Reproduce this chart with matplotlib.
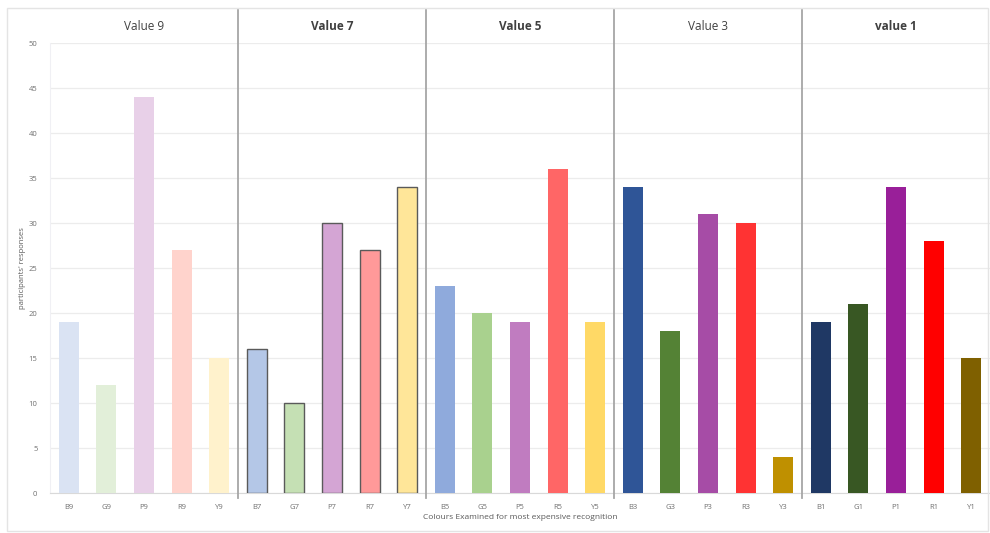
import matplotlib.pyplot as plt
from matplotlib.patches import Rectangle

plt.rcParams['font.family'] = ['Open Sans', 'DejaVu Sans']

# Survey counts per colour shade, grouped by value level
groups = ['Value 9', 'Value 7', 'Value 5', 'Value 3', 'value 1']
labels = ['B9', 'G9', 'P9', 'R9', 'Y9',
          'B7', 'G7', 'P7', 'R7', 'Y7',
          'B5', 'G5', 'P5', 'R5', 'Y5',
          'B3', 'G3', 'P3', 'R3', 'Y3',
          'B1', 'G1', 'P1', 'R1', 'Y1']
counts = [19, 12, 44, 27, 15,
          16, 10, 30, 27, 34,
          23, 20, 19, 36, 19,
          34, 18, 31, 30, 4,
          19, 21, 34, 28, 15]
colours = ['#dae3f3', '#e2efd9', '#e8d0e8', '#ffd3cc', '#fff2cc',
           '#b4c7e7', '#c5e0b4', '#d4a5d4', '#ff9999', '#ffe699',
           '#8faadc', '#a9d18e', '#c07cc0', '#ff6666', '#ffd966',
           '#2f5597', '#548235', '#a64ca6', '#ff3333', '#bf9000',
           '#1f3864', '#385723', '#991f99', '#ff0000', '#7f6000']

fig = plt.figure(figsize=(9.9, 5.33), dpi=100)
ax = fig.add_axes([0.0505, 0.075, 0.9495, 0.844])

x = list(range(len(counts)))
bars = ax.bar(x, counts, width=0.53, color=colours, zorder=3)
# the "Value 7" group has dark outlines
for b in bars[5:10]:
    b.set_edgecolor('#5a5a5a')
    b.set_linewidth(1.0)

ax.set_xlim(-0.5, len(counts) - 0.5)
ax.set_ylim(0, 50)
ax.set_yticks(range(0, 51, 5))
ax.set_xticks(x)
ax.set_xticklabels(labels)
ax.tick_params(axis='both', length=0, labelsize=5.5, labelcolor='#707070')
ax.tick_params(axis='x', pad=8)
ax.tick_params(axis='y', pad=9)
ax.grid(axis='y', color='#ececec', linewidth=0.9, zorder=0)

for s in ['top', 'right']:
    ax.spines[s].set_visible(False)
ax.spines['left'].set_color('#f0f0f4')
ax.spines['bottom'].set_color('#d9d9d9')

# group separators and headers
weights = ['normal', 'bold', 'bold', 'normal', 'bold']
for i, g in enumerate(groups):
    if i > 0:
        ax.axvline(i * 5 - 0.5, ymin=-0.011, ymax=1.073, color='#a6a6a6',
                   linewidth=1.3, clip_on=False, zorder=4)
    ax.text(i * 5 + 2, 1.036, g, transform=ax.get_xaxis_transform(),
            ha='center', va='center', fontsize=8.5, color='#404040',
            fontweight=weights[i])

ax.set_xlabel('Colours Examined for most expensive recognition',
              fontsize=6, color='#595959', labelpad=2)
ax.set_ylabel("participants' responses", fontsize=5.5, color='#595959',
              labelpad=2)

fig.patches.append(Rectangle((7 / 990, 2 / 533), 981 / 990, 523 / 533,
                             transform=fig.transFigure, fill=False,
                             edgecolor='#e4e4e4', linewidth=1))

fig.savefig('out.png', dpi=100)
plt.close(fig)
